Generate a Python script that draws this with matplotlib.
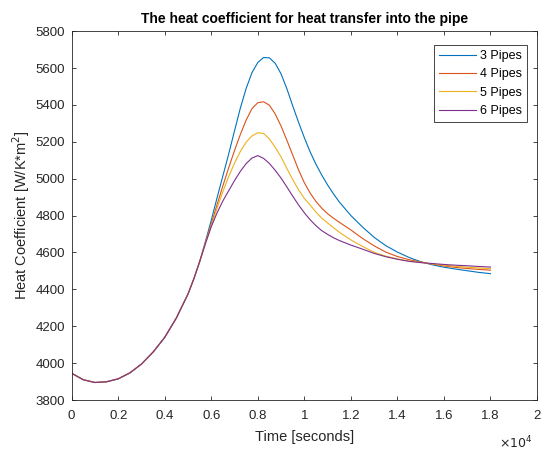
import numpy as np
import matplotlib
matplotlib.use("Agg")
import matplotlib.pyplot as plt

# time axis [s] - denser sampling around the peak
time = ([0, 500, 1000, 1500, 2000, 2500, 3000, 3500, 4000, 4500, 5000]
        + [5250, 5500, 5750, 6000, 6250, 6500, 6750, 7000, 7250, 7500, 7750,
           8000, 8250, 8500, 8750, 9000, 9250, 9500, 9750, 10000, 10250, 10500,
           10750, 11000, 11250, 11500]
        + [12000, 12500, 13000, 13500, 14000, 14500, 15000, 15500, 16000,
           16500, 17000, 17500, 18000])

# common start (identical for all pipe counts)
start = [3945, 3910, 3895, 3899, 3915, 3947, 3995, 4060, 4140, 4245, 4375,
         4457, 4550]

h3 = start + [4660, 4775, 4897, 5016, 5135, 5260, 5383, 5490, 5575, 5630, 5657,
              5655, 5625, 5568, 5487, 5395, 5306, 5222, 5145, 5078, 5019, 4966,
              4918, 4874,
              4800, 4738, 4682, 4637, 4602, 4573, 4550, 4533, 4520, 4510, 4501,
              4492, 4485]
h4 = start + [4655, 4755, 4860, 4962, 5060, 5153, 5240, 5318, 5380, 5412, 5417,
              5398, 5350, 5285, 5208, 5128, 5048, 4978, 4922, 4876, 4840, 4810,
              4786, 4764,
              4722, 4676, 4636, 4602, 4578, 4561, 4548, 4537, 4527, 4519, 4513,
              4508, 4504]
h5 = start + [4650, 4745, 4840, 4930, 5012, 5085, 5148, 5198, 5232, 5249, 5245,
              5215, 5170, 5118, 5055, 4995, 4940, 4893, 4857, 4818, 4786, 4760,
              4735, 4710,
              4668, 4633, 4601, 4580, 4565, 4553, 4546, 4538, 4531, 4525, 4520,
              4516, 4512]
h6 = start + [4648, 4740, 4815, 4880, 4935, 4990, 5040, 5082, 5112, 5125, 5110,
              5082, 5045, 5003, 4955, 4905, 4858, 4815, 4777, 4745, 4718, 4698,
              4680, 4665,
              4640, 4618, 4595, 4577, 4563, 4552, 4545, 4540, 4535, 4531, 4528,
              4524, 4521]

labels = ['3 Pipes', '4 Pipes', '5 Pipes', '6 Pipes']
colors = ['#0072BD', '#D95319', '#EDB120', '#7E2F8E']

xticks = [0, 2000, 4000, 6000, 8000, 10000, 12000, 14000, 16000, 18000, 20000]
xticklabels = ['0', '0.2', '0.4', '0.6', '0.8', '1', '1.2', '1.4', '1.6', '1.8', '2']
yticks = list(range(3800, 5801, 200))

plt.rcParams['font.family'] = ['Liberation Sans', 'DejaVu Sans']
grey = '#262626'

fig = plt.figure(figsize=(5.43, 4.51), dpi=100)
ax = fig.add_axes([0.132, 0.113, 0.857, 0.818])

for h, lab, c in zip([h3, h4, h5, h6], labels, colors):
    ax.plot(time, h, color=c, linewidth=0.8, label=lab)

ax.set_xlim(0, 20000)
ax.set_ylim(3800, 5800)
ax.set_xticks(xticks)
ax.set_xticklabels(xticklabels)
ax.set_yticks(yticks)
ax.tick_params(direction='in', length=3, width=0.6, colors=grey, labelsize=9.5,
               top=True, right=True)
ax.tick_params(axis='x', pad=7)
ax.tick_params(axis='y', pad=5)
for s in ax.spines.values():
    s.set_color(grey)
    s.set_linewidth(0.6)

ax.set_title('The heat coefficient for heat transfer into the pipe',
             fontsize=10, fontweight='bold', color='black', pad=6)
ax.set_xlabel('Time [seconds]', fontsize=10.5, color=grey, labelpad=6)
ax.set_ylabel('Heat Coefficient [W/K*m$^2$]', fontsize=10.5, color=grey, labelpad=2)
ax.text(0.99, -0.093, r'$\times10^4$', transform=ax.transAxes, ha='right', va='top',
        fontsize=9, color=grey)

leg = ax.legend(loc='upper right', bbox_to_anchor=(0.978, 0.962), fontsize=9,
                fancybox=False, framealpha=1, edgecolor=grey, handlelength=3.0,
                handletextpad=0.3, borderpad=0.4, labelspacing=0.5, borderaxespad=0)
leg.get_frame().set_linewidth(0.6)

fig.savefig('out.png', dpi=100)
